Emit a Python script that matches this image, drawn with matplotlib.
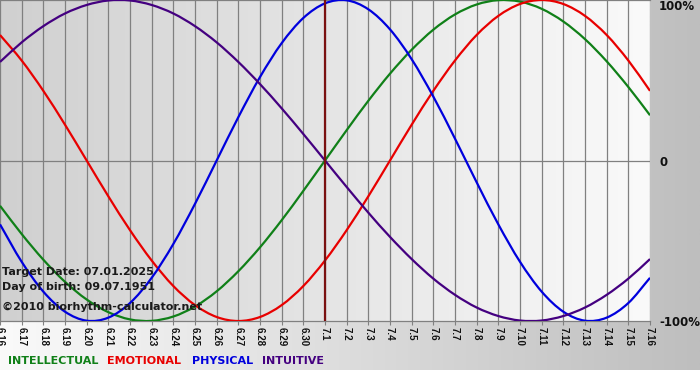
import numpy as np
import matplotlib
matplotlib.use("Agg")
import matplotlib.pyplot as plt
from matplotlib.colors import LinearSegmentedColormap
from matplotlib.path import Path
from matplotlib.patches import PathPatch

plt.rcParams['font.family'] = ['DejaVu Sans']

# day labels along the bottom (month.day)
days = ['6.16', '6.17', '6.18', '6.19', '6.20', '6.21', '6.22', '6.23', '6.24', '6.25',
        '6.26', '6.27', '6.28', '6.29', '6.30', '7.1', '7.2', '7.3', '7.4', '7.5',
        '7.6', '7.7', '7.8', '7.9', '7.10', '7.11', '7.12', '7.13', '7.14', '7.15', '7.16']
target_day = '7.1'

# cycle values, one per day (-1 .. 1)
intellectual = [-0.282, -0.458, -0.618, -0.756, -0.866, -0.945, -0.990, -0.999, -0.972, -0.910,
                -0.815, -0.690, -0.541, -0.372, -0.189, 0.0, 0.189, 0.372, 0.541, 0.690,
                0.815, 0.910, 0.972, 0.999, 0.990, 0.945, 0.866, 0.756, 0.618, 0.458, 0.282]
emotional = [0.782, 0.623, 0.434, 0.223, 0.0, -0.223, -0.434, -0.623, -0.782, -0.901,
             -0.975, -1.0, -0.975, -0.901, -0.782, -0.623, -0.434, -0.223, 0.0, 0.223,
             0.434, 0.623, 0.782, 0.901, 0.975, 1.0, 0.975, 0.901, 0.782, 0.623, 0.434]
physical = [-0.398, -0.631, -0.817, -0.942, -0.998, -0.979, -0.888, -0.731, -0.520, -0.270,
            0.0, 0.270, 0.520, 0.731, 0.888, 0.979, 0.998, 0.942, 0.817, 0.631,
            0.398, 0.136, -0.136, -0.398, -0.631, -0.817, -0.942, -0.998, -0.979, -0.888, -0.731]
intuitive = [0.614, 0.736, 0.837, 0.916, 0.969, 0.997, 0.997, 0.969, 0.916, 0.837,
             0.736, 0.614, 0.476, 0.325, 0.165, 0.0, -0.165, -0.325, -0.476, -0.614,
             -0.736, -0.837, -0.916, -0.969, -0.997, -0.997, -0.969, -0.916, -0.837, -0.736, -0.614]

series = [('INTELLECTUAL', intellectual, '#108018'),
          ('EMOTIONAL', emotional, '#e80000'),
          ('PHYSICAL', physical, '#0000dd'),
          ('INTUITIVE', intuitive, '#440080')]


def smooth_path(xs, ys):
    # catmull-rom through the daily points, drawn as bezier segments
    xs = np.asarray(xs, float)
    ys = np.asarray(ys, float)
    px = np.concatenate([[2 * xs[0] - xs[1]], xs, [2 * xs[-1] - xs[-2]]])
    py = np.concatenate([[2 * ys[0] - ys[1]], ys, [2 * ys[-1] - ys[-2]]])
    verts = [(xs[0], ys[0])]
    codes = [Path.MOVETO]
    for i in range(1, len(px) - 2):
        c1 = (px[i] + (px[i + 1] - px[i - 1]) / 6, py[i] + (py[i + 1] - py[i - 1]) / 6)
        c2 = (px[i + 1] - (px[i + 2] - px[i]) / 6, py[i + 1] - (py[i + 2] - py[i]) / 6)
        verts += [c1, c2, (px[i + 1], py[i + 1])]
        codes += [Path.CURVE4] * 3
    return Path(verts, codes)


W, H = 700, 380
fig = plt.figure(figsize=(7, 3.8), dpi=100, facecolor='white')

# page background gradient (light left -> grey right)
bg = fig.add_axes([0, 10 / H, 1, 370 / H], zorder=-5)
bg.imshow(np.linspace(0, 1, 256).reshape(1, -1), aspect='auto',
          cmap=LinearSegmentedColormap.from_list('pg', ['#fafafa', '#bebebe']))
bg.axis('off')

ax = fig.add_axes([0, (H - 321) / H, 650 / W, 321 / H])
x = np.arange(len(days))
ax.imshow(np.linspace(0, 1, 256).reshape(1, -1), aspect='auto', zorder=0,
          extent=[0, len(days) - 1, -1, 1],
          cmap=LinearSegmentedColormap.from_list('pa', ['#d0d0d0', '#fafafa']))

for xi in x:
    ax.axvline(xi, color='#808080', lw=0.9, zorder=1)
ax.axhline(0, color='#808080', lw=0.9, zorder=1)

for name, vals, col in series:
    ax.add_patch(PathPatch(smooth_path(x, vals), facecolor='none', edgecolor=col,
                           lw=1.6, zorder=3))

ax.axvline(days.index(target_day), color='#7a1010', lw=1.6, zorder=4)

ax.set_xlim(0, len(days) - 1)
ax.set_ylim(-1, 1)
ax.set_yticks([])
ax.set_xticks(x)
ax.set_xticklabels(days, rotation=-90, fontsize=7, fontweight='bold',
                   family='Liberation Sans', color='#101010')
ax.tick_params(axis='x', length=3, color='#808080', pad=1)
for s in ['left', 'right']:
    ax.spines[s].set_visible(False)
for s in ['top', 'bottom']:
    ax.spines[s].set_color('#808080')
    ax.spines[s].set_linewidth(0.9)

# info text inside plot
info = ['Target Date: 07.01.2025', 'Day of birth: 09.07.1951', '\u00a92010 biorhythm-calculator.net']
info_y = [272, 287, 307]
for t, yy in zip(info, info_y):
    fig.text(2 / W, 1 - yy / H, t, fontsize=8, fontweight='bold', color='#1a1a1a',
             va='center', ha='left', zorder=10)

# right axis labels
for t, yy in [('100%', 7), ('0', 162), ('-100%', 322)]:
    fig.text(659 / W, 1 - yy / H, t, fontsize=8.5, fontweight='bold', color='#101010',
             va='center', ha='left')

# legend line at bottom
leg_x = [8, 107, 192, 262]
for (name, vals, col), lx in zip(series, leg_x):
    fig.text(lx / W, 1 - 361 / H, name, fontsize=8, fontweight='bold', color=col,
             va='center', ha='left')

fig.savefig('out.png', dpi=100, facecolor=fig.get_facecolor())
